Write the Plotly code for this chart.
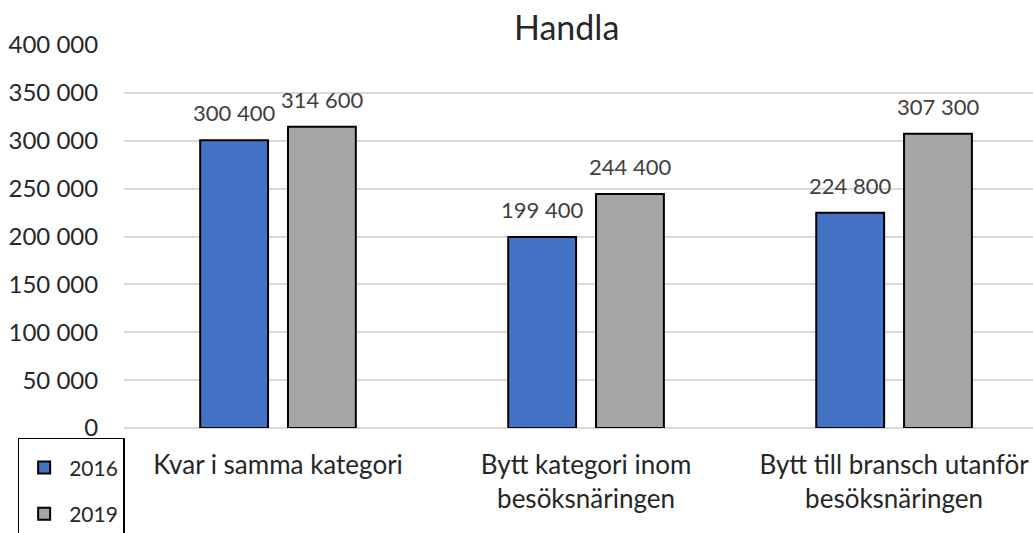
import plotly.graph_objects as go

categories = ["Kvar i samma kategori", "Bytt kategori inom<br>besöksnäringen", "Bytt till bransch utanför<br>besöksnäringen"]
values_2016 = [300400, 199400, 224800]
values_2019 = [314600, 244400, 307300]
series_names = ["2016", "2019"]
tick_vals = [0, 50000, 100000, 150000, 200000, 250000, 300000, 350000, 400000]

FONT = "Lato, Open Sans, sans-serif"
TXT = "#262626"
BARGAP = 0.43
GROUPGAP = 0.227

fig = go.Figure()
xs = list(range(len(categories)))
series = [(series_names[0], values_2016, "#4472C4", "a"),
          (series_names[1], values_2019, "#A5A5A5", "b")]
for name, vals, color, grp in series:
    fig.add_trace(go.Bar(
        x=xs, y=vals, name=name, legendgroup=grp,
        marker=dict(color=color, line=dict(color="black", width=2)),
        hoverinfo="skip",
    ))

# data labels placed over each bar via the axis scales
slot = (1 - BARGAP) / 2
annotations = []
for k, (name, vals, color, grp) in enumerate(series):
    off = (k - 0.5) * slot
    for i, v in zip(xs, vals):
        annotations.append(dict(
            x=i + off, y=v, xref="x", yref="y", text=f"{v:,}".replace(",", " "),
            showarrow=False, xanchor="center", yanchor="bottom", yshift=12,
            font=dict(size=22, color="#404040", family=FONT)))

annotations.append(dict(text="Handla", xref="paper", yref="paper", x=0.487, y=1.0,
                        xanchor="center", yanchor="middle", showarrow=False,
                        bgcolor="white", borderpad=8, yshift=19,
                        font=dict(size=34, color=TXT, family=FONT)))

fig.update_layout(
    width=1033, height=533,
    margin=dict(l=124, r=0, t=45, b=105, autoexpand=False),
    paper_bgcolor="white", plot_bgcolor="white",
    separators=". ",
    barmode="group", bargap=BARGAP, bargroupgap=GROUPGAP,
    font=dict(family=FONT, size=24, color=TXT),
    showlegend=True,
    legend=dict(x=-0.117, xanchor="left", y=-0.026, yanchor="top",
                bordercolor="black", borderwidth=1.5, tracegroupgap=16,
                itemwidth=40,
                title=dict(text=" ", font=dict(size=6)),
                font=dict(size=21, color=TXT), bgcolor="white"),
    xaxis=dict(tickmode="array", tickvals=xs, ticktext=categories,
               range=[-0.5, 2.451], showgrid=False, zeroline=False, showline=False,
               ticks="outside", ticklen=14, tickcolor="rgba(0,0,0,0)",
               tickfont=dict(size=26, color=TXT)),
    yaxis=dict(range=[0, 400000], tickvals=tick_vals, tickformat=",",
               showgrid=True, gridcolor="#D9D9D9", gridwidth=1.5,
               zeroline=True, zerolinecolor="#D9D9D9", zerolinewidth=1.5,
               ticks="outside", ticklen=20, tickcolor="rgba(0,0,0,0)",
               tickfont=dict(size=24, color=TXT)),
    annotations=annotations,
)

fig.write_html("out.html", config={"displayModeBar": False},
               post_script="document.body.style.margin='0';")
